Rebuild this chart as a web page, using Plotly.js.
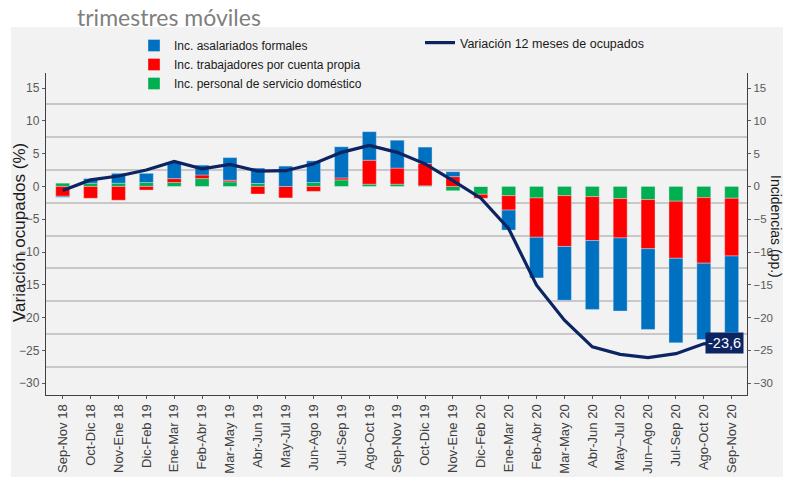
<!DOCTYPE html>
<html>
<head>
<meta charset="utf-8">
<script src="https://cdn.plot.ly/plotly-3.0.1.min.js"></script>
<style>html,body{margin:0;padding:0;background:#fff;}#chart{width:787px;height:477px;}</style>
</head>
<body>
<div id="chart"></div>
<script>
var categories = ['Sep-Nov 18','Oct-Dic 18','Nov-Ene 18','Dic-Feb 19','Ene-Mar 19','Feb-Abr 19','Mar-May 19','Abr-Jun 19','May-Jul 19','Jun-Ago 19','Jul-Sep 19','Ago-Oct 19','Sep-Nov 19','Oct-Dic 19','Nov-Ene 19','Dic-Feb 20','Ene-Mar 20','Feb-Abr 20','Mar-May 20','Abr-Jun 20','May\u2013Jul 20','Jun\u2013Ago 20','Jul-Sep 20','Ago-Oct 20','Sep-Nov 20'];

var asalariadosFormales = [-0.15, 0.7, 1.5, 1.4, 2.5, 1.5, 3.45, 2.35, 3.1, 3.3, 4.75, 4.35, 4.25, 2.5, 0.75, 0, -3.05, -6.2, -8.2, -10.5, -11.15, -12.3, -12.9, -11.65, -11.7];
var cuentaPropia = [-1.5, -1.8, -2.1, -0.55, 0.6, 0.55, 0.25, -1.15, -1.75, -0.75, 0.3, 3.65, 2.45, 3.4, 1.5, -0.6, -2.2, -6.0, -7.75, -6.7, -6.0, -7.5, -8.7, -10.0, -8.8];
var servicioDomestico = [0.5, 0.5, 0.5, 0.6, 0.6, 1.2, 0.7, 0.45, 0, 0.6, 1.0, 0.35, 0.35, 0.1, -0.65, -1.2, -1.4, -1.75, -1.4, -1.55, -1.85, -2.0, -2.25, -1.7, -1.8];
var variacionOcupados = [-0.6, 1.0, 1.6, 2.5, 3.8, 2.7, 3.35, 2.35, 2.4, 3.45, 5.2, 6.25, 5.2, 3.45, 0.9, -1.8, -6.45, -15.05, -20.4, -24.45, -25.6, -26.1, -25.5, -24.0, -23.6];

var yTickVals = [15, 10, 5, 0, -5, -10, -15, -20, -25, -30];

var SANS = 'Liberation Sans, Arial, sans-serif';
var YRANGE = [-31.8, 17.3];

var barLine = {color: 'rgba(235,242,250,0.6)', width: 0.6};

var traces = [
  {type: 'bar', name: 'Inc. personal de servicio dom\u00e9stico', x: categories, y: servicioDomestico,
   marker: {color: '#00b050', line: barLine}, width: 0.5, xaxis: 'x', yaxis: 'y', legend: 'legend'},
  {type: 'bar', name: 'Inc. trabajadores por cuenta propia', x: categories, y: cuentaPropia,
   marker: {color: '#ff0000', line: barLine}, width: 0.5, xaxis: 'x', yaxis: 'y', legend: 'legend'},
  {type: 'bar', name: 'Inc. asalariados formales', x: categories, y: asalariadosFormales,
   marker: {color: '#0070c0', line: barLine}, width: 0.5, xaxis: 'x', yaxis: 'y', legend: 'legend'},
  {type: 'scatter', mode: 'lines', name: 'Variaci\u00f3n 12 meses de ocupados', x: categories, y: variacionOcupados,
   line: {color: '#0c2461', width: 3.2}, xaxis: 'x', yaxis: 'y2', legend: 'legend2'}
];

var lastIdx = variacionOcupados.length - 1;
var lastLabel = variacionOcupados[lastIdx].toFixed(1).replace('.', ',');

var layout = {
  width: 787, height: 477,
  margin: {l: 46, r: 40, t: 73, b: 82, pad: 0},
  paper_bgcolor: '#ffffff',
  plot_bgcolor: '#f2f2f2',
  barmode: 'relative',
  showlegend: true,
  title: {text: 'trimestres m\u00f3viles', x: 77/787, xref: 'container', xanchor: 'left',
          y: 1 - 18/477, yref: 'container', yanchor: 'middle',
          font: {family: 'Lato, Open Sans, sans-serif', size: 23, color: '#7f7f7f'}},
  font: {family: SANS, color: '#404040'},
  xaxis: {type: 'category', range: [-0.6, 24.55], tickangle: -90,
          ticks: 'outside', ticklen: 3, tickcolor: '#595959',
          showline: true, linecolor: '#404040', linewidth: 1.3,
          showgrid: false, zeroline: false,
          tickfont: {family: SANS, size: 13, color: '#404040'}},
  yaxis: {range: YRANGE, tickvals: yTickVals, ticks: 'outside', ticklen: 3, tickcolor: '#595959',
          showline: true, linecolor: '#404040', linewidth: 1.3, showgrid: false, zeroline: false,
          minor: {tick0: 2.5, dtick: 5, showgrid: true, gridcolor: '#c8c8c8', gridwidth: 1.5, ticks: ''},
          tickfont: {family: SANS, size: 12, color: '#595959'}},
  yaxis2: {range: YRANGE, tickvals: yTickVals, overlaying: 'y', side: 'right', anchor: 'x',
           ticks: 'outside', ticklen: 3, tickcolor: '#595959',
           showline: true, linecolor: '#404040', linewidth: 1.3, showgrid: false, zeroline: false,
           tickfont: {family: SANS, size: 11.5, color: '#595959'}},
  legend: {x: (134-46)/701, xanchor: 'left', y: 1 + (73-31)/322, yanchor: 'top',
           traceorder: 'reversed', bgcolor: 'rgba(0,0,0,0)', borderwidth: 0, tracegroupgap: 0,
           font: {family: SANS, size: 12, color: '#1a1a1a'}},
  legend2: {x: (420-46)/701, xanchor: 'left', y: 1 + (73-28)/322, yanchor: 'top',
            bgcolor: 'rgba(0,0,0,0)', borderwidth: 0,
            font: {family: SANS, size: 12.5, color: '#1a1a1a'}},
  shapes: [
    {type: 'rect', xref: 'paper', yref: 'paper', x0: (11-46)/701, x1: (783-46)/701,
     y0: -(477-395)/322, y1: 1 + (73-27)/322, fillcolor: '#f2f2f2', line: {width: 0}, layer: 'below'}
  ],
  annotations: [
    {text: 'Variaci\u00f3n ocupados (%)', xref: 'paper', yref: 'paper', x: (19-46)/701, y: 1 - (233-73)/322,
     xanchor: 'center', yanchor: 'middle', textangle: -90, showarrow: false,
     font: {family: SANS, size: 17, color: '#1a1a1a'}},
    {text: 'Incidencias (pp.)', xref: 'paper', yref: 'paper', x: (776-46)/701, y: 1 - (226-73)/322,
     xanchor: 'center', yanchor: 'middle', textangle: 90, showarrow: false,
     font: {family: SANS, size: 14, color: '#1a1a1a'}},
    {text: lastLabel, x: categories[lastIdx], y: variacionOcupados[lastIdx], xref: 'x', yref: 'y2',
     showarrow: false, xanchor: 'center', yanchor: 'middle', xshift: -7, yshift: -2,
     bgcolor: '#0c2461', borderpad: 2, font: {family: SANS, size: 14.5, color: '#ffffff'}}
  ]
};

Plotly.newPlot('chart', traces, layout, {displayModeBar: false, responsive: false});
</script>
</body>
</html>
